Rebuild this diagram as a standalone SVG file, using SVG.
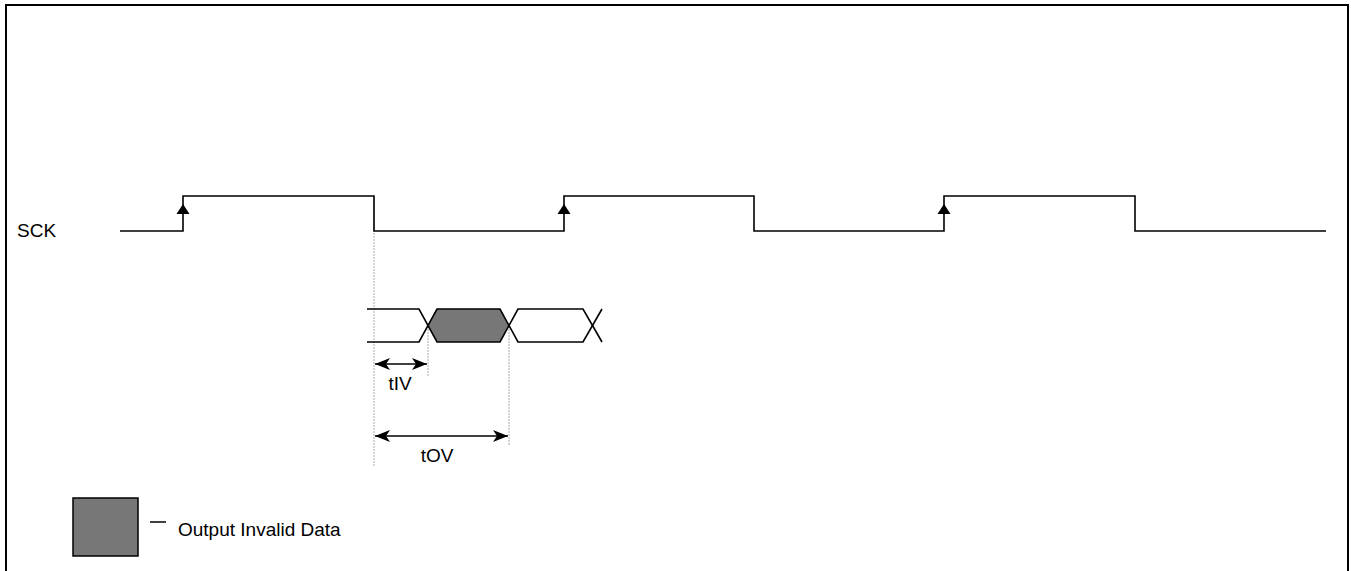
<svg xmlns="http://www.w3.org/2000/svg" width="1351" height="571" viewBox="0 0 1351 571">
<style>
.w{fill:none;stroke:#000;stroke-width:1.6}
.g{stroke:#aaa;stroke-width:1;stroke-dasharray:2,1;fill:none}
.t{font-family:"Liberation Sans",Arial,sans-serif;font-size:19px;fill:#000}
</style>
<defs>
<marker id="ah" viewBox="0 0 15 12" refX="15" refY="6" markerWidth="15" markerHeight="12" markerUnits="userSpaceOnUse" orient="auto-start-reverse"><path d="M0,0L15,6L0,12L4,6z" fill="#000"/></marker>
</defs>
<rect x="6" y="5" width="1342" height="570" fill="#fff" stroke="#000" stroke-width="2"/>
<g id="guides">
<line class="g" x1="374" y1="197" x2="374" y2="466"/>
<line class="g" x1="428" y1="326" x2="428" y2="376"/>
<line class="g" x1="509" y1="326" x2="509" y2="446"/>
</g>
<g id="sck">
<text class="t" x="17" y="237">SCK</text>
<polyline class="w" points="120,231 183,231 183,196 374,196 374,231 564,231 564,196 754,196 754,231 944,231 944,196 1135,196 1135,231 1326,231"/>
<path d="M183,204L176.5,214L189.5,214z" fill="#000"/>
<path d="M564,204L557.5,214L570.5,214z" fill="#000"/>
<path d="M944,204L937.5,214L950.5,214z" fill="#000"/>
</g>
<g id="data">
<polygon points="437,309 500,309 509,325.5 500,342 437,342 428,325.5" fill="#777"/>
<polyline class="w" points="367,309 419,309 437,342 500,342 518,309 583,309 602,342"/>
<polyline class="w" points="367,342 419,342 437,309 500,309 518,342 583,342 602,309"/>
</g>
<g id="connectors">
<line class="w" x1="375" y1="364" x2="427" y2="364" marker-start="url(#ah)" marker-end="url(#ah)"/>
<line class="w" x1="375" y1="436" x2="508" y2="436" marker-start="url(#ah)" marker-end="url(#ah)"/>
</g>
<g id="labels">
<text class="t" x="400" y="390" text-anchor="middle">tIV</text>
<text class="t" x="437" y="462" text-anchor="middle">tOV</text>
</g>
<g id="legend">
<rect x="73" y="498" width="65" height="58" fill="#777" stroke="#000" stroke-width="1.5"/>
<line x1="150" y1="522" x2="166" y2="522" stroke="#000" stroke-width="1.5"/>
<text class="t" x="178" y="536">Output Invalid Data</text>
</g>
</svg>
